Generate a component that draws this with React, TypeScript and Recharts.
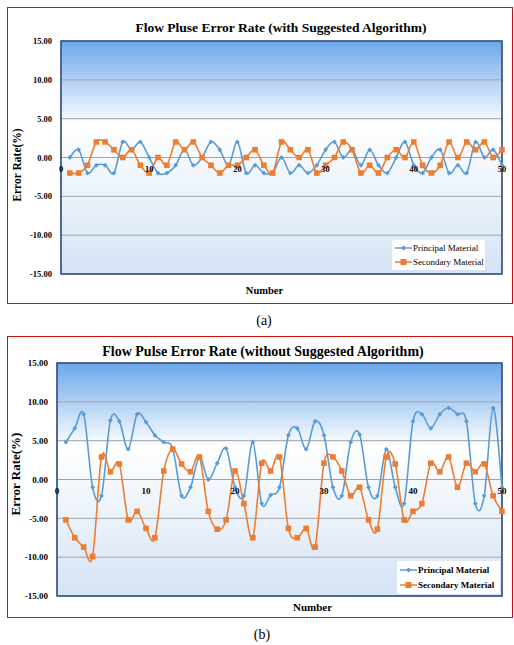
import React from 'react';
import {
  LineChart, Line, XAxis, YAxis, CartesianGrid,
  ReferenceArea, ReferenceDot, Legend,
} from 'recharts';

const SERIF = '"Liberation Serif", "Times New Roman", serif';
const BLUE = '#5b9bd5';
const ORANGE = '#ed7d31';

// (a) with suggested algorithm
const PRINCIPAL_A = [0, 1, -2, -1, -1, -2, 2, 1, 2, 0, -2, -2, -1, 1, -1, 0, 2, 1, -1, 2, -2, -1, -2, -2, 0, -2, -1, -2, -1, 1, 2, 0, 1, -1, 1, -1, -2, 0, 2, -1, -2, 0, 1, -2, -1, -2, 2, 0, 1, -1];
const SECONDARY_A = [-2, -2, -1, 2, 2, 1, 0, 1, -1, -2, 0, -1, 2, 1, 2, 0, -1, -2, -1, -1, 0, 1, -1, -2, 2, 1, 0, 1, -2, -1, 0, 2, 1, -2, -1, -2, 0, 1, 0, 2, -1, -2, -1, 2, 0, 2, 1, 2, 0, 1];

// (b) without suggested algorithm
const PRINCIPAL_B = [4.8, 6.6, 8.4, -1.0, -2.1, 7.6, 7.5, 3.9, 8.4, 7.4, 5.7, 4.8, 4.0, -2.1, -1.0, 2.9, 0.0, 2.1, 4.0, -1.0, -2.1, 4.8, -3.1, -2.0, -1.0, 5.7, 6.6, 3.9, 7.5, 5.7, -1.0, -2.1, 4.8, 5.8, -1.0, -2.1, 3.9, -1.0, -3.1, 7.5, 8.4, 6.6, 8.4, 9.2, 8.4, 7.5, -3.1, -2.1, 9.2, -1.0];
const SECONDARY_B = [-5.2, -7.5, -8.7, -9.9, 2.9, 1.0, 2.0, -5.2, -4.1, -6.3, -7.5, 1.1, 3.9, 2.0, 1.0, 2.9, -4.1, -6.4, -5.2, 1.1, -3.1, -7.5, 2.1, 1.1, 2.9, -6.3, -7.5, -6.3, -8.7, 2.1, 2.9, 1.1, -2.1, -1.0, -5.2, -6.4, 2.9, 2.0, -5.2, -4.1, -3.1, 2.1, 1.0, 2.9, -1.0, 2.1, 1.0, 2.0, -2.1, -4.1];

const Y_TICKS = [-15, -10, -5, 0, 5, 10, 15];
const Y_MINOR = Array.from({ length: 31 }, (_, i) => i - 15);
const X_GRID = [0, 5, 10, 15, 20, 25, 30, 35, 40, 45, 50];
const X_LABELS = [0, 10, 20, 30, 40, 50];

const toRows = (p: number[], s: number[]) => p.map((v, i) => ({ n: i + 1, p: v, s: s[i] }));

// Excel-style smoothed line (Catmull-Rom through every point)
function smoothCurve(context: any) {
  let pts: [number, number][] = [];
  return {
    areaStart() {}, areaEnd() {},
    lineStart() { pts = []; },
    point(x: number, y: number) { pts.push([+x, +y]); },
    lineEnd() {
      if (!pts.length) return;
      context.moveTo(pts[0][0], pts[0][1]);
      for (let i = 0; i < pts.length - 1; i++) {
        const p0 = pts[i - 1] || pts[i];
        const p1 = pts[i];
        const p2 = pts[i + 1];
        const p3 = pts[i + 2] || p2;
        context.bezierCurveTo(
          p1[0] + (p2[0] - p0[0]) / 6, p1[1] + (p2[1] - p0[1]) / 6,
          p2[0] - (p3[0] - p1[0]) / 6, p2[1] - (p3[1] - p1[1]) / 6,
          p2[0], p2[1],
        );
      }
    },
  };
}

const diamond = (props: any) => {
  const { cx, cy, index } = props;
  const r = 2.4;
  return <polygon key={`d${index}`} points={`${cx},${cy - r} ${cx + r},${cy} ${cx},${cy + r} ${cx - r},${cy}`} fill={BLUE} />;
};
const square = (props: any) => {
  const { cx, cy, index } = props;
  return <rect key={`s${index}`} x={cx - 2.8} y={cy - 2.8} width={5.6} height={5.6} fill={ORANGE} />;
};

function LegendBox({ bold, fontSize }: { bold: boolean; fontSize: number }) {
  const item = (label: string, color: string, isSquare: boolean) => (
    <div style={{ display: 'flex', alignItems: 'center', height: '50%' }}>
      <svg width={17} height={8} style={{ marginRight: 1 }}>
        <line x1={0} y1={4} x2={17} y2={4} stroke={color} strokeWidth={1.5} />
        {isSquare
          ? <rect x={5.5} y={1} width={6} height={6} fill={color} />
          : <polygon points="8.5,1.5 11,4 8.5,6.5 6,4" fill={color} />}
      </svg>
      <span>{label}</span>
    </div>
  );
  return (
    <div style={{
      background: '#fff', width: '100%', height: '100%', boxSizing: 'border-box',
      padding: '1px 0 1px 3px', fontFamily: SERIF, fontSize, fontWeight: bold ? 700 : 400,
      color: '#000', whiteSpace: 'nowrap',
    }}>
      {item('Principal Material', BLUE, false)}
      {item('Secondary Material', ORANGE, true)}
    </div>
  );
}

interface ChartProps {
  id: string;
  principal: number[];
  secondary: number[];
  width: number;
  height: number;
  top: number;
  bottom: number;
  yWidth: number;
  right: number;
  tickFont: number;
  legendPos: { left: number; top: number; width: number; height: number };
  legendBold: boolean;
  legendFont: number;
}

function FlowChart(c: ChartProps) {
  const data = toRows(c.principal, c.secondary);
  const tickStyle = { fontSize: c.tickFont, fontWeight: 700, fill: '#000', fontFamily: SERIF };
  return (
    <LineChart width={c.width} height={c.height} data={data}
      margin={{ top: c.top, right: c.right, bottom: c.bottom, left: 0 }}>
      <defs>
        <linearGradient id={c.id} x1="0" y1="0" x2="0" y2="1">
          <stop offset="0%" stopColor="#6ba7ea" />
          <stop offset="36%" stopColor="#ffffff" />
          <stop offset="100%" stopColor="#d4e3f5" />
        </linearGradient>
      </defs>
      <CartesianGrid stroke="#a3a3a3" fill={`url(#${c.id})`} fillOpacity={1} />
      <XAxis dataKey="n" type="number" domain={[0, 50]} ticks={X_GRID}
        height={0} tick={false} tickLine={false} axisLine={false} />
      <YAxis domain={[-15, 15]} ticks={Y_TICKS} width={c.yWidth}
        tickFormatter={(v: number) => v.toFixed(2)} tick={tickStyle}
        tickLine={false} axisLine={false} tickMargin={3} />
      <YAxis yAxisId="minor" domain={[-15, 15]} ticks={Y_MINOR} mirror width={0}
        tick={false} axisLine={false} tickSize={3} tickLine={{ stroke: '#666' }} />
      <ReferenceArea x1={0} x2={50} y1={-15} y2={15} fill="none" stroke="#2c4a78" strokeWidth={1.5} ifOverflow="visible" />
      {X_LABELS.map(t => (
        <ReferenceDot key={t} x={t} y={0} r={0} ifOverflow="visible" stroke="none"
          label={{ value: String(t), position: 'bottom', offset: 8, ...tickStyle }} />
      ))}
      <Legend layout="vertical" align="center" verticalAlign="middle"
        wrapperStyle={{ ...c.legendPos, position: 'absolute' }}
        content={() => <LegendBox bold={c.legendBold} fontSize={c.legendFont} />} />
      <Line dataKey="p" name="Principal Material" type={smoothCurve as any} stroke={BLUE}
        strokeWidth={1.6} dot={diamond} activeDot={false} isAnimationActive={false} />
      <Line dataKey="s" name="Secondary Material" type={smoothCurve as any} stroke={ORANGE}
        strokeWidth={1.6} dot={square} activeDot={false} isAnimationActive={false} />
    </LineChart>
  );
}

const abs = (x: number, y: number, extra: React.CSSProperties = {}): React.CSSProperties => ({
  position: 'absolute', left: x, top: y, transform: 'translate(-50%, -50%)',
  fontFamily: SERIF, color: '#000', whiteSpace: 'nowrap', lineHeight: 1, ...extra,
});

export default function App() {
  return (
    <div style={{ position: 'absolute', left: 0, top: 0, width: 514, height: 645, background: '#fff' }}>
      {/* (a) */}
      <div style={{ position: 'absolute', left: 7, top: 7, width: 506, height: 297, border: '1.5px solid #cc1111', boxSizing: 'border-box' }} />
      <div style={{ position: 'absolute', left: 7, top: 7 }}>
        <FlowChart id="bgA" principal={PRINCIPAL_A} secondary={SECONDARY_A}
          width={506} height={297} top={34} bottom={30} yWidth={54} right={11} tickFont={8.5}
          legendPos={{ left: 385, top: 233, width: 93, height: 30 }} legendBold={false} legendFont={9} />
      </div>
      <div style={abs(281, 28, { fontSize: 13.5, fontWeight: 700 })}>Flow Pluse Error Rate (with Suggested Algorithm)</div>
      <div style={abs(18, 165, { fontSize: 11.5, fontWeight: 700, transform: 'translate(-50%, -50%) rotate(-90deg)' })}>Error Rate(%)</div>
      <div style={abs(264.5, 291, { fontSize: 10.5, fontWeight: 700 })}>Number</div>
      <div style={abs(264, 321, { fontSize: 14 })}>(a)</div>

      {/* (b) */}
      <div style={{ position: 'absolute', left: 7, top: 336, width: 506, height: 282, border: '1.5px solid #cc1111', boxSizing: 'border-box' }} />
      <div style={{ position: 'absolute', left: 7, top: 336 }}>
        <FlowChart id="bgB" principal={PRINCIPAL_B} secondary={SECONDARY_B}
          width={506} height={282} top={27} bottom={22} yWidth={50} right={11} tickFont={9}
          legendPos={{ left: 390, top: 225, width: 103, height: 33 }} legendBold={true} legendFont={9} />
      </div>
      <div style={abs(263, 352, { fontSize: 14, fontWeight: 700 })}>Flow Pulse Error Rate (without Suggested Algorithm)</div>
      <div style={abs(15, 474, { fontSize: 13, fontWeight: 700, transform: 'translate(-50%, -50%) rotate(-90deg)' })}>Error Rate(%)</div>
      <div style={abs(312.5, 607, { fontSize: 11, fontWeight: 700 })}>Number</div>
      <div style={abs(262, 635, { fontSize: 14 })}>(b)</div>
    </div>
  );
}
